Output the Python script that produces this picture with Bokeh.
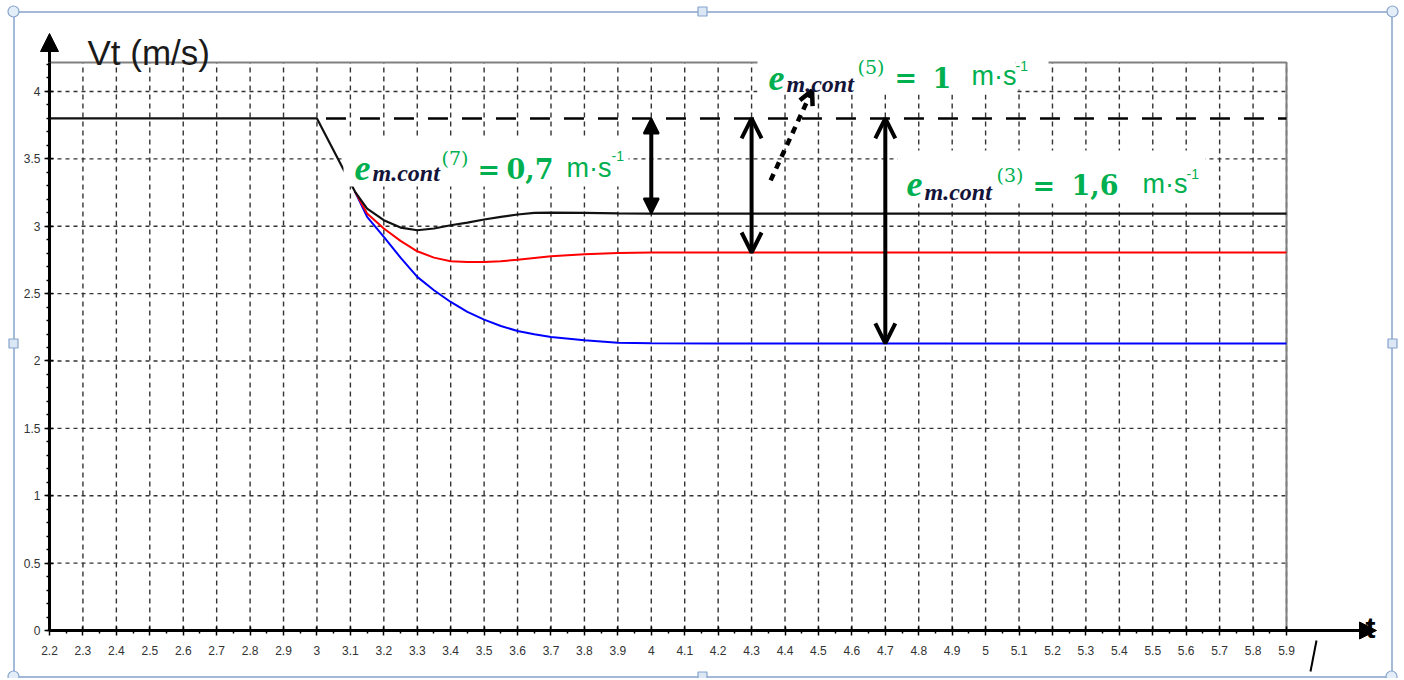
from bokeh.plotting import figure
from bokeh.models import (Range1d, FixedTicker, Label, Arrow, OpenHead, NormalHead, LinearAxis)
from bokeh.embed import file_html
from bokeh.resources import INLINE

# ---------------- data ----------------
t_black = [2.2, 3.0, 3.114, 3.15, 3.2, 3.25, 3.3, 3.35, 3.4, 3.45, 3.5, 3.55, 3.6, 3.65, 3.7, 3.8, 3.9, 4.0, 5.9]
v_black = [3.8, 3.8, 3.255, 3.131, 3.045, 2.99, 2.97, 2.983, 3.007, 3.027, 3.05, 3.069, 3.087, 3.099, 3.101, 3.099, 3.095, 3.094, 3.094]

t_red = [3.114, 3.15, 3.2, 3.25, 3.3, 3.35, 3.4, 3.45, 3.5, 3.55, 3.6, 3.65, 3.7, 3.8, 3.9, 4.0, 5.9]
v_red = [3.255, 3.094, 2.983, 2.891, 2.814, 2.767, 2.74, 2.735, 2.735, 2.74, 2.752, 2.765, 2.777, 2.792, 2.802, 2.805, 2.805]

t_blue = [3.114, 3.15, 3.2, 3.25, 3.3, 3.35, 3.4, 3.45, 3.5, 3.55, 3.6, 3.65, 3.7, 3.8, 3.9, 4.0, 4.2, 5.9]
v_blue = [3.255, 3.07, 2.921, 2.767, 2.624, 2.525, 2.438, 2.364, 2.307, 2.26, 2.223, 2.198, 2.178, 2.153, 2.136, 2.132, 2.13, 2.13]

t_ref = [3.0, 5.9]
v_ref = [3.8, 3.8]

arrow_t = [4.0, 4.3, 4.7]
arrow_to = [v_black[-1], v_red[-1], v_blue[-1]]

x_ticks = [round(2.2 + 0.1 * i, 1) for i in range(38)]
x_minor = [round(2.25 + 0.1 * i, 2) for i in range(37)]
y_ticks = [0, 0.5, 1, 1.5, 2, 2.5, 3, 3.5, 4]
y_minor = [round(0.1 * i, 1) for i in range(43)]
x_overrides = {3.0: "3", 4.0: "4", 5.0: "5"}
y_overrides = {0: "0", 1: "1", 2: "2", 3: "3", 4: "4"}

X0, X1, Y0, Y1 = 2.2, 5.9, 0.0, 4.215

# ---------------- layout: frame covers the whole canvas ----------------
W, H = 1400, 678
FL, FT, FW, FH = 49, 62, 1237, 568   # plot box in pixels
SX = (X1 - X0) / FW
SY = (Y1 - Y0) / FH
def X(px):
    return X0 + (px - FL) * SX
def Y(py):
    return Y0 + (FT + FH - py) * SY

p = figure(width=W, height=H, min_border=0,
           min_border_left=0, min_border_right=0, min_border_top=0, min_border_bottom=0,
           x_range=Range1d(X(0), X(W)), y_range=Range1d(Y(H), Y(0)),
           x_axis_location=None, y_axis_location=None,
           output_backend="svg", toolbar_location=None, title=None)
p.background_fill_color = "white"
p.border_fill_color = "white"
p.outline_line_color = None
p.xgrid.visible = False
p.ygrid.visible = False

xax = LinearAxis(fixed_location=0, bounds=(X0, X1))
yax = LinearAxis(fixed_location=X0, bounds=(Y0, Y1))
p.add_layout(xax, "below")
p.add_layout(yax, "left")
for ax in (xax, yax):
    ax.axis_line_width = 3
    ax.axis_line_color = "black"
    ax.major_tick_line_color = "black"
    ax.major_tick_line_width = 1.5
    ax.major_tick_in = 4
    ax.major_tick_out = 5
    ax.minor_tick_line_color = "black"
    ax.minor_tick_line_width = 1.5
    ax.minor_tick_in = 0
    ax.minor_tick_out = 3
    ax.major_label_text_font = "Liberation Sans"
    ax.major_label_text_font_size = "12px"
    ax.major_label_text_color = "#333333"
xax.ticker = FixedTicker(ticks=x_ticks, minor_ticks=x_minor)
yax.ticker = FixedTicker(ticks=y_ticks, minor_ticks=y_minor)
xax.major_label_overrides = x_overrides
yax.major_label_overrides = y_overrides
xax.major_label_standoff = 10
yax.major_label_standoff = 4

# grid (from the tick arrays)
gx = x_ticks[1:]
p.segment(x0=gx, y0=[Y0] * len(gx), x1=gx, y1=[Y1] * len(gx),
          line_color="#333333", line_width=1.4, line_dash="5 4")
gy = y_ticks[1:]
p.segment(x0=[X0] * len(gy), y0=gy, x1=[X1] * len(gy), y1=gy,
          line_color="#333333", line_width=1.4, line_dash="4 4")
# plot box top / right border
p.line([X0, X1, X1], [Y1, Y1, Y0], line_color="#808080", line_width=2)

# curves
p.line(t_ref, v_ref, line_color="black", line_width=2.5, line_dash="20 14", line_dash_offset=25)
p.line(t_blue, v_blue, line_color="#0000ff", line_width=2)
p.line(t_red, v_red, line_color="#ff0000", line_width=2)
p.line(t_black, v_black, line_color="#111111", line_width=2.2)

# white label backgrounds
boxes = [(343, 628, 138, 186), (757, 1015, 30, 94), (1015, 1048, 30, 89), (897, 1205, 150, 203)]
p.quad(left=[X(b[0]) for b in boxes], right=[X(b[1]) for b in boxes],
       top=[Y(b[2]) for b in boxes], bottom=[Y(b[3]) for b in boxes],
       fill_color="white", line_color=None)

# double-headed arrows of the gaps
for i, (ta, va) in enumerate(zip(arrow_t, arrow_to)):
    if i == 0:
        hs = NormalHead(size=15, fill_color="black", line_color="black", line_width=2)
        he = NormalHead(size=15, fill_color="black", line_color="black", line_width=2)
    else:
        hs = OpenHead(size=20, line_width=4, line_color="black")
        he = OpenHead(size=20, line_width=4, line_color="black")
    p.add_layout(Arrow(x_start=ta, y_start=v_ref[0], x_end=ta, y_end=va,
                       start=hs, end=he, line_width=4, line_color="black"))

# dashed pointer to the (5) label
p.add_layout(Arrow(x_start=4.357, y_start=3.34, x_end=4.481, y_end=4.007,
                   end=OpenHead(size=14, line_width=4.5, line_color="black"),
                   line_width=4.5, line_color="black", line_dash="7 6"))

# axis extensions with arrow heads
p.add_layout(Arrow(x_start=X0, y_start=Y1, x_end=X0, y_end=Y(33),
                   end=NormalHead(size=18, fill_color="black", line_color="black"),
                   line_width=3, line_color="black"))
p.add_layout(Arrow(x_start=X1, y_start=0, x_end=X(1376), y_end=0,
                   end=NormalHead(size=17, fill_color="black", line_color="black"),
                   line_width=3, line_color="black"))

GREEN = "#00b050"
NAVY = "#14143a"
SER = "Liberation Serif"
DJ = "DejaVu Serif"
SANS = "Liberation Sans"

def piece(txt, px, py, font, size, style, color, align="left"):
    p.add_layout(Label(x=X(px), y=Y(py), text=txt, text_font=font, text_font_size=size,
                       text_font_style=style, text_color=color, text_baseline="alphabetic",
                       text_align=align))

def formula(idx, val, pos):
    (ex, ey), (mx, my), (ix, iy), (qx, qy), (vx, vy), (ux, uy), (sx, sy) = pos
    piece("e", ex, ey, SER, "36px", "bold italic", GREEN)
    piece("m.cont", mx, my, SER, "24px", "bold italic", NAVY)
    piece("(" + idx + ")", ix, iy, DJ, "19px", "normal", GREEN)
    piece("=", qx, qy, DJ, "27px", "bold", GREEN)
    piece(val, vx, vy, DJ, "27px", "bold", GREEN)
    piece("m\u00b7s", ux, uy, SANS, "27px", "normal", GREEN)
    piece("-1", sx, sy, SANS, "14px", "normal", GREEN)

formula("7", "0,7", [(354, 167), (372, 172), (441, 157), (477, 169), (506, 168), (566, 167), (611, 155)])
formula("5", "1", [(768, 77), (786, 83), (857, 66), (894, 77), (932, 77), (971, 75), (1015, 65)])
formula("3", "1,6", [(906, 183), (924, 191), (996, 174), (1032, 185), (1071, 184), (1142, 183), (1186, 173)])

# axis titles
piece("Vt (m/s)", 87, 52, SANS, "35px", "normal", "#1a1a1a")
piece("t", 1370, 627, SANS, "30px", "bold", "black", align="center")
p.line([X(1316), X(1310)], [Y(640), Y(671)], line_color="black", line_width=2)

# selection frame of the picture
p.line([X(13.5), X(1391.5), X(1391.5), X(13.5), X(13.5)],
       [Y(11.5), Y(11.5), Y(676.5), Y(676.5), Y(11.5)],
       line_color="#86a3cc", line_width=1.5)
p.scatter([X(13), X(1392), X(13), X(1391)], [Y(11), Y(11), Y(676), Y(676)], marker="circle",
          size=11, fill_color="#e4eef9", line_color="#86a3cc", line_width=1.2)
p.scatter([X(702), X(13), X(1392), X(702)], [Y(11), Y(343), Y(343), Y(676)], marker="square",
          size=9, fill_color="#dbe7f5", line_color="#86a3cc", line_width=1.2)

open("out.html", "w").write(file_html(p, INLINE))
